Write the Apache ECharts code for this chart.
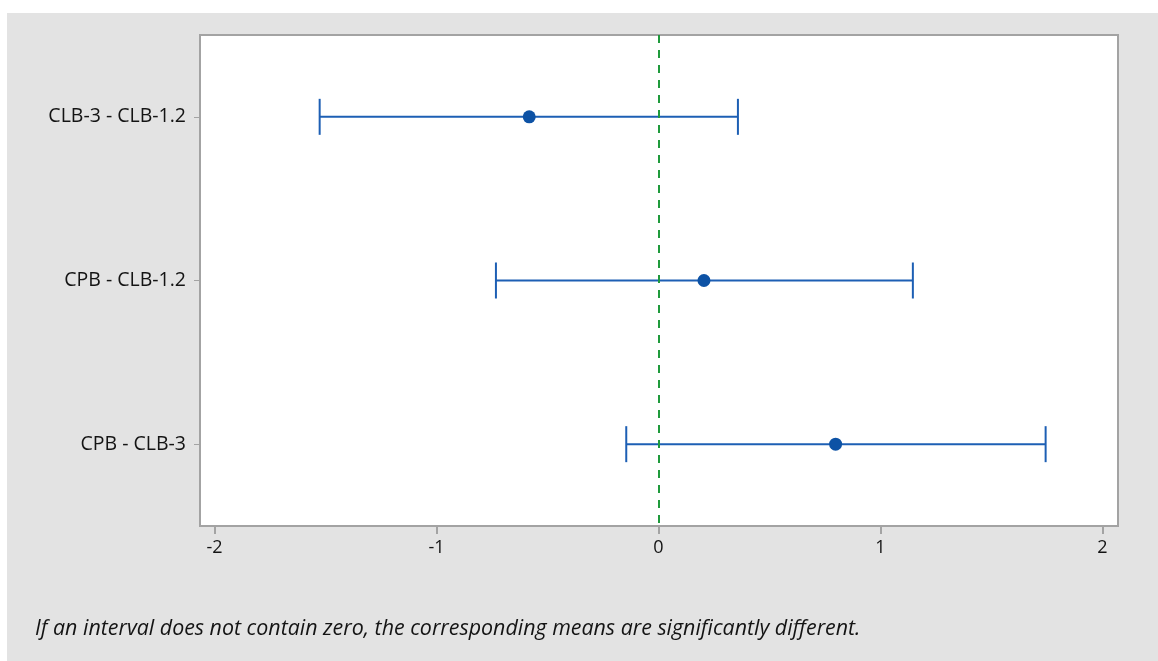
<!DOCTYPE html>
<html>
<head>
<meta charset="utf-8">
<script src="https://cdn.jsdelivr.net/npm/echarts@6/dist/echarts.min.js"></script>
<style>
  html, body { margin: 0; padding: 0; background: #ffffff; }
  #wrap { position: relative; width: 1158px; height: 661px; background: #ffffff; overflow: hidden; }
  #panel { position: absolute; left: 7px; top: 13px; right: 0; bottom: 0; background: #e3e3e3; }
  #chart { position: absolute; left: 0; top: 0; width: 1158px; height: 661px; }
</style>
</head>
<body>
<div id="wrap">
  <div id="panel"></div>
  <div id="chart"></div>
</div>
<script>
// Pairwise differences of means with their confidence intervals
const categories = ['CLB-3 - CLB-1.2', 'CPB - CLB-1.2', 'CPB - CLB-3'];
const lowerBound = [-1.526, -0.732, -0.145];
const meanDiff   = [-0.582, 0.205, 0.798];
const upperBound = [0.358, 1.146, 1.744];
const xTicks = [-2, -1, 0, 1, 2];
const footNote = 'If an interval does not contain zero, the corresponding means are significantly different.';

const LINE_COLOR = '#1d5fb4';
const DOT_COLOR = '#0d52a5';
const AXIS_GREY = '#a3a3a3';
const FONT = '"Open Sans", "Noto Sans", sans-serif';

const intervalData = categories.map((c, i) => [lowerBound[i], i, upperBound[i]]);
const meanData = categories.map((c, i) => [meanDiff[i], i]);

const chart = echarts.init(document.getElementById('chart'), null, { renderer: 'canvas' });

chart.setOption({
  backgroundColor: 'transparent',
  animation: false,
  grid: {
    left: 200, top: 35, right: 40, bottom: 135,
    show: true,
    backgroundColor: '#ffffff',
    borderColor: AXIS_GREY,
    borderWidth: 2
  },
  xAxis: {
    type: 'value',
    min: -2.065,
    max: 2.07,
    splitLine: { show: false },
    axisLine: { show: true, onZero: false, lineStyle: { color: AXIS_GREY, width: 2 } },
    axisTick: {
      show: true, length: 8, inside: false,
      customValues: xTicks,
      lineStyle: { color: AXIS_GREY, width: 2 }
    },
    axisLabel: {
      customValues: xTicks,
      margin: 13,
      color: '#141414',
      fontFamily: FONT,
      fontSize: 18,
      formatter: v => String(v)
    }
  },
  yAxis: {
    type: 'category',
    data: categories,
    inverse: true,
    boundaryGap: true,
    splitLine: { show: false },
    axisLine: { show: true, onZero: false, lineStyle: { color: AXIS_GREY, width: 2 } },
    axisTick: {
      show: true, length: 6, alignWithLabel: true,
      lineStyle: { color: AXIS_GREY, width: 1 }
    },
    axisLabel: {
      margin: 14,
      color: '#141414',
      fontFamily: FONT,
      fontSize: 19.5
    }
  },
  graphic: [{
    type: 'text',
    x: 35,
    y: 629,
    silent: true,
    style: {
      text: footNote,
      fill: '#141414',
      font: 'italic 21.4px ' + FONT,
      verticalAlign: 'middle'
    }
  }],
  series: [
    {
      type: 'custom',
      name: 'interval',
      data: intervalData,
      z: 3,
      renderItem: function (params, api) {
        const yIdx = api.value(1);
        const p0 = api.coord([api.value(0), yIdx]);
        const p1 = api.coord([api.value(2), yIdx]);
        const half = 18;
        const style = { stroke: LINE_COLOR, lineWidth: 2 };
        return {
          type: 'group',
          children: [
            { type: 'line', shape: { x1: p0[0], y1: p0[1], x2: p1[0], y2: p1[1] }, style: style },
            { type: 'line', shape: { x1: p0[0], y1: p0[1] - half, x2: p0[0], y2: p0[1] + half }, style: style },
            { type: 'line', shape: { x1: p1[0], y1: p1[1] - half, x2: p1[0], y2: p1[1] + half }, style: style }
          ]
        };
      }
    },
    {
      type: 'scatter',
      name: 'mean',
      data: meanData,
      symbol: 'circle',
      symbolSize: 13,
      z: 5,
      itemStyle: { color: DOT_COLOR, opacity: 1 },
      markLine: {
        silent: true,
        symbol: 'none',
        label: { show: false },
        lineStyle: { color: '#1f9a3c', width: 2, type: [8, 7] },
        data: [{ xAxis: 0 }]
      }
    }
  ]
});
</script>
</body>
</html>
